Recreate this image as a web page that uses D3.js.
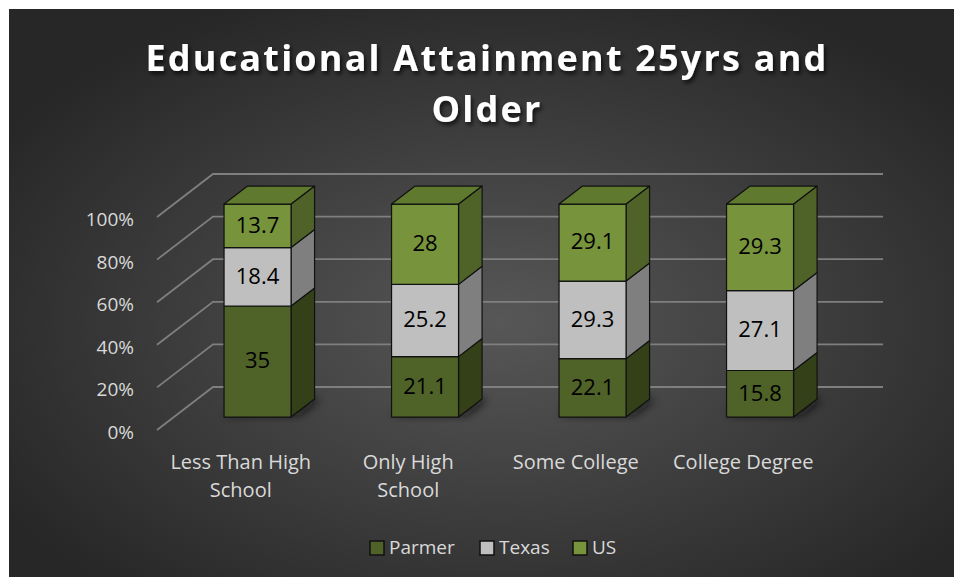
<!DOCTYPE html>
<html>
    <head>
        <meta charset="utf-8">
        <title>Educational Attainment</title>
        <style>
            body { margin: 0; background: white; }
            svg { display: block; }
            text { font-family: "Open Sans", sans-serif; }
        </style>
    </head>
    <body>
        <svg width="954" height="577"></svg>
        <script src="https://d3js.org/d3.v7.min.js"></script>
        <script>
            // the data
            let categories = ['Less Than High School', 'Only High School', 'Some College', 'College Degree'];
            let catLines = [['Less Than High', 'School'], ['Only High', 'School'], ['Some College'], ['College Degree']];
            let seriesNames = ['Parmer', 'Texas', 'US'];
            let parmer = [35, 21.1, 22.1, 15.8];
            let texas = [18.4, 25.2, 29.3, 27.1];
            let us = [13.7, 28, 29.1, 29.3];
            let tickValues = [0, 0.2, 0.4, 0.6, 0.8, 1];

            // colours: front, side, top
            let frontColor = ['#4f6228', '#bfbfbf', '#77933c'];
            let sideColor = ['#334018', '#7f7f7f', '#4f6228'];
            let topColor = ['#5f7a2e', '#a6a6a6', '#5f7a2e'];

            let svg = d3.select('svg');
            let defs = svg.append('defs');

            // dark radial background like the office theme
            let grad = defs.append('radialGradient')
                .attr('id', 'bg')
                .attr('cx', '52%').attr('cy', '55%').attr('r', '62%');
            grad.append('stop').attr('offset', '0%').attr('stop-color', '#575757');
            grad.append('stop').attr('offset', '100%').attr('stop-color', '#272727');

            let blur = defs.append('filter').attr('id', 'shadow')
                .attr('x', '-50%').attr('y', '-50%').attr('width', '200%').attr('height', '200%');
            blur.append('feGaussianBlur').attr('stdDeviation', 5);

            let tshadow = defs.append('filter').attr('id', 'tshadow')
                .attr('x', '-10%').attr('y', '-30%').attr('width', '120%').attr('height', '160%');
            tshadow.append('feDropShadow')
                .attr('dx', 2).attr('dy', 3).attr('stdDeviation', 2)
                .attr('flood-color', '#000').attr('flood-opacity', 0.7);

            svg.append('rect')
                .attr('x', 9).attr('y', 9)
                .attr('width', 945).attr('height', 568)
                .attr('fill', 'url(#bg)');

            // 3d frame: front plane scales plus a depth offset
            let depthX = 56, depthY = -43;
            let y = d3.scaleLinear().domain([0, 1]).range([430, 217]);
            let x = d3.scaleBand().domain(categories).range([157, 827])
                .paddingInner(0.6).paddingOuter(0.3);
            let d0 = 0.3, d1 = 0.72; // depth of bar front and back

            function pt(px, v, d) {
                return [px + d * depthX, y(v) + d * depthY];
            }

            // gridlines on the side wall and back wall
            let grid = svg.append('g')
                .attr('stroke', '#7f7f7f')
                .attr('stroke-width', 1.8)
                .attr('fill', 'none');
            tickValues.forEach(function(t) {
                let a = pt(157, t, 0), b = pt(157, t, 1), c = pt(827, t, 1);
                grid.append('path')
                    .attr('d', d3.line()([a, b, c]));
            });

            // y axis labels
            svg.append('g')
                .selectAll('text')
                .data(tickValues)
                .join('text')
                    .attr('x', 134)
                    .attr('y', d => y(d) + 4)
                    .attr('text-anchor', 'end')
                    .attr('dominant-baseline', 'middle')
                    .attr('fill', '#d9d9d9')
                    .attr('font-size', 19)
                    .text(d3.format('.0%'));

            // stack to 100%
            let table = categories.map((c, i) => ({ cat: c, Parmer: parmer[i], Texas: texas[i], US: us[i] }));
            let stacked = d3.stack().keys(seriesNames).offset(d3.stackOffsetExpand)(table);

            // soft shadows under the bars
            svg.append('g')
                .attr('filter', 'url(#shadow)')
                .selectAll('path')
                .data(categories)
                .join('path')
                    .attr('fill', '#111')
                    .attr('opacity', 0.8)
                    .attr('d', function(c) {
                        let x0 = x(c) - 4, x1 = x(c) + x.bandwidth() + 6;
                        return d3.line()([pt(x0, 0, d0 + 0.05), pt(x1, 0, d0 + 0.05), pt(x1, 0, d1), pt(x0 + 10, 0, d1)]) + 'Z';
                    });

            let bars = svg.append('g')
                .attr('stroke', '#111')
                .attr('stroke-width', 1.2)
                .attr('stroke-linejoin', 'round');

            categories.forEach(function(c, i) {
                let x0 = x(c), x1 = x(c) + x.bandwidth();
                stacked.forEach(function(s, k) {
                    let lo = s[i][0], hi = s[i][1];
                    // right side face
                    bars.append('path')
                        .attr('fill', sideColor[k])
                        .attr('d', d3.line()([pt(x1, lo, d0), pt(x1, lo, d1), pt(x1, hi, d1), pt(x1, hi, d0)]) + 'Z');
                    // front face
                    bars.append('path')
                        .attr('fill', frontColor[k])
                        .attr('d', d3.line()([pt(x0, lo, d0), pt(x1, lo, d0), pt(x1, hi, d0), pt(x0, hi, d0)]) + 'Z');
                    // top face on the last segment
                    if (k == stacked.length - 1) {
                        bars.append('path')
                            .attr('fill', topColor[k])
                            .attr('d', d3.line()([pt(x0, hi, d0), pt(x1, hi, d0), pt(x1, hi, d1), pt(x0, hi, d1)]) + 'Z');
                    }
                    // value label
                    let mid = pt((x0 + x1) / 2, (lo + hi) / 2, d0);
                    svg.append('text')
                        .attr('x', mid[0])
                        .attr('y', mid[1] + 1)
                        .attr('text-anchor', 'middle')
                        .attr('dominant-baseline', 'middle')
                        .attr('font-size', 22)
                        .attr('fill', '#000')
                        .text(s[i].data[s.key]);
                });
            });

            // category labels
            let catG = svg.append('g')
                .attr('fill', '#d9d9d9')
                .attr('font-size', 20)
                .attr('text-anchor', 'middle');
            categories.forEach(function(c, i) {
                let t = catG.append('text')
                    .attr('x', x(c) + x.bandwidth() / 2)
                    .attr('y', 469);
                catLines[i].forEach(function(line, j) {
                    t.append('tspan')
                        .attr('x', x(c) + x.bandwidth() / 2)
                        .attr('dy', j == 0 ? 0 : 28)
                        .text(line);
                });
            });

            // title
            let title = svg.append('text')
                .attr('text-anchor', 'middle')
                .attr('fill', '#ffffff')
                .attr('font-size', 36)
                .attr('font-weight', 'bold')
                .attr('letter-spacing', 2.2)
                .attr('filter', 'url(#tshadow)');
            title.append('tspan').attr('x', 487).attr('y', 71).text('Educational Attainment 25yrs and');
            title.append('tspan').attr('x', 487).attr('y', 122).text('Older');

            // legend
            let legendX = [370, 480, 573];
            let legend = svg.append('g')
                .selectAll('g')
                .data(seriesNames)
                .join('g')
                    .attr('transform', (d, i) => `translate(${legendX[i]},548)`);
            legend.append('rect')
                .attr('x', 0).attr('y', -7)
                .attr('width', 14).attr('height', 14)
                .attr('fill', (d, i) => frontColor[i])
                .attr('stroke', '#111')
                .attr('stroke-width', 1.5);
            legend.append('text')
                .attr('x', 19)
                .attr('y', 1)
                .attr('dominant-baseline', 'middle')
                .attr('fill', '#d9d9d9')
                .attr('font-size', 19)
                .text(d => d);
        </script>
    </body>
</html>
